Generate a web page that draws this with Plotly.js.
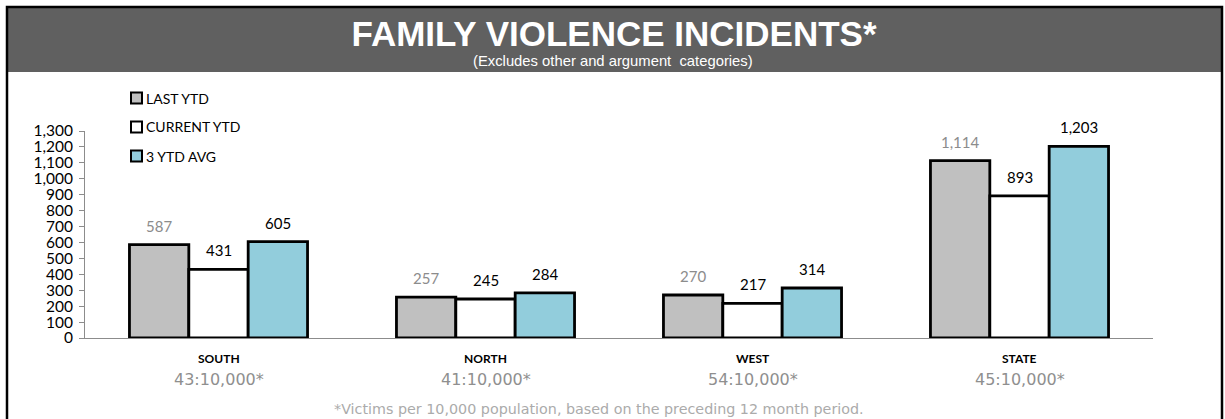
<!DOCTYPE html>
<html>
<head>
<meta charset="utf-8">
<script src="https://cdn.plot.ly/plotly-3.0.1.min.js"></script>
<style>
html,body{margin:0;padding:0;background:#fff;}
#chart{width:1225px;height:419px;}
</style>
</head>
<body>
<div id="chart"></div>
<script>
// ---- data ----
const categories = ['SOUTH', 'NORTH', 'WEST', 'STATE'];
const lastYTD = [587, 257, 270, 1114];
const currentYTD = [431, 245, 217, 893];
const avg3YTD = [605, 284, 314, 1203];
const ratioLabels = ['43:10,000*', '41:10,000*', '54:10,000*', '45:10,000*'];
const seriesNames = ['LAST YTD', 'CURRENT YTD', '3 YTD AVG'];
const yTicks = [0,100,200,300,400,500,600,700,800,900,1000,1100,1200,1300];
const titleText = 'FAMILY VIOLENCE INCIDENTS*';
const subtitleText = '(Excludes other and argument  categories)';
const footnoteText = '*Victims per 10,000 population, based on the preceding 12 month period.';

// ---- styles ----
const fills = ['#c0c0c0', '#ffffff', '#92cddc'];
const labelColors = ['#8c8c8c', '#000000', '#000000'];
const labelFont = 'Lato, "Open Sans", sans-serif';
const bargap = 0.333;
const nSeries = 3;
const barW = (1 - bargap) / nSeries;

// pixel helpers (plot area: x 85..1153, y 131..338)
const px2x = p => (p - 85) / 1068;
const px2y = p => (338 - p) / 207;

const seriesValues = [lastYTD, currentYTD, avg3YTD];

const traces = seriesValues.map((vals, i) => ({
  type: 'bar',
  name: seriesNames[i],
  x: categories,
  y: vals,
  showlegend: false,
  marker: {color: fills[i], line: {color: '#000', width: 2.8}},
  hoverinfo: 'x+y+name'
}));

const annotations = [];
const shapes = [
  {type: 'rect', xref: 'paper', yref: 'paper',
   x0: px2x(8), x1: px2x(1221), y0: px2y(72), y1: px2y(8),
   fillcolor: '#606060', line: {width: 0}, layer: 'below'},
  {type: 'rect', xref: 'paper', yref: 'paper',
   x0: px2x(7), x1: px2x(1222), y0: px2y(430), y1: px2y(7),
   fillcolor: 'rgba(0,0,0,0)', line: {color: '#000', width: 2.5}}
];

// value labels above bars
seriesValues.forEach((vals, s) => {
  vals.forEach((v, c) => {
    annotations.push({
      xref: 'x', yref: 'y',
      x: c + (s - 1) * barW,
      y: v,
      text: v.toLocaleString('en-US'),
      showarrow: false,
      yanchor: 'bottom',
      yshift: 8,
      font: {family: labelFont, size: 15, color: labelColors[s]}
    });
  });
});
// category labels + ratio labels
categories.forEach((cat, c) => {
  annotations.push({
    xref: 'x', yref: 'y', x: c, y: 0,
    text: '<b>' + cat + '</b>',
    showarrow: false, yanchor: 'middle', yshift: -20,
    font: {family: labelFont, size: 12, color: '#000'}
  });
  annotations.push({
    xref: 'x', yref: 'y', x: c, y: 0,
    text: ratioLabels[c],
    showarrow: false, yanchor: 'middle', yshift: -41,
    font: {family: '"DejaVu Sans", sans-serif', size: 16, color: '#8f8f8f'}
  });
});
// legend (manual, to match the original's tight symbol/text spacing)
const legendRows = [98, 127, 156];
seriesNames.forEach((nm, i) => {
  shapes.push({type: 'rect', xref: 'paper', yref: 'paper',
    x0: px2x(131), x1: px2x(142), y0: px2y(legendRows[i] + 5.5), y1: px2y(legendRows[i] - 5.5),
    fillcolor: fills[i], line: {color: '#000', width: 2}});
  annotations.push({xref: 'paper', yref: 'paper',
    x: px2x(144), y: px2y(legendRows[i]), xanchor: 'left', yanchor: 'middle',
    text: nm, showarrow: false,
    font: {family: labelFont, size: 14, color: '#000'}});
});
// subtitle
annotations.push({
  xref: 'paper', yref: 'paper',
  x: px2x(613), y: px2y(61),
  text: subtitleText, showarrow: false, yanchor: 'middle',
  font: {family: '"Liberation Sans", Arial, sans-serif', size: 14.8, color: '#ffffff'}
});
// footnote
annotations.push({
  xref: 'paper', yref: 'paper',
  x: px2x(599), y: px2y(409),
  text: footnoteText, showarrow: false, yanchor: 'middle',
  font: {family: '"DejaVu Sans", sans-serif', size: 14.3, color: '#ababab'}
});

const layout = {
  width: 1225, height: 419,
  margin: {l: 85, r: 72, t: 131, b: 81, pad: 0},
  paper_bgcolor: '#ffffff', plot_bgcolor: '#ffffff',
  separators: '.,',
  title: {
    text: '<b>' + titleText + '</b>',
    xref: 'container', yref: 'container', x: 614 / 1225, y: 1 - 33.5 / 419,
    xanchor: 'center', yanchor: 'middle',
    font: {family: '"Liberation Sans", Arial, sans-serif', size: 35, color: '#ffffff'}
  },
  barmode: 'group', bargap: bargap, bargroupgap: 0,
  showlegend: false,
  xaxis: {
    type: 'category', showticklabels: false, ticks: '',
    showline: true, linecolor: '#8c8c8c', linewidth: 1,
    showgrid: false, zeroline: false, fixedrange: true
  },
  yaxis: {
    range: [0, 1300], autorange: false,
    tickvals: yTicks, tickformat: ',d',
    ticks: 'outside', ticklen: 5, tickcolor: '#8c8c8c',
    showline: true, linecolor: '#8c8c8c', linewidth: 1,
    showgrid: false, zeroline: false,
    ticklabelstandoff: 3,
    tickfont: {family: labelFont, size: 15.5, color: '#000'},
    fixedrange: true
  },
  shapes: shapes,
  annotations: annotations
};

Plotly.newPlot('chart', traces, layout, {displayModeBar: false, staticPlot: true});
</script>
</body>
</html>
